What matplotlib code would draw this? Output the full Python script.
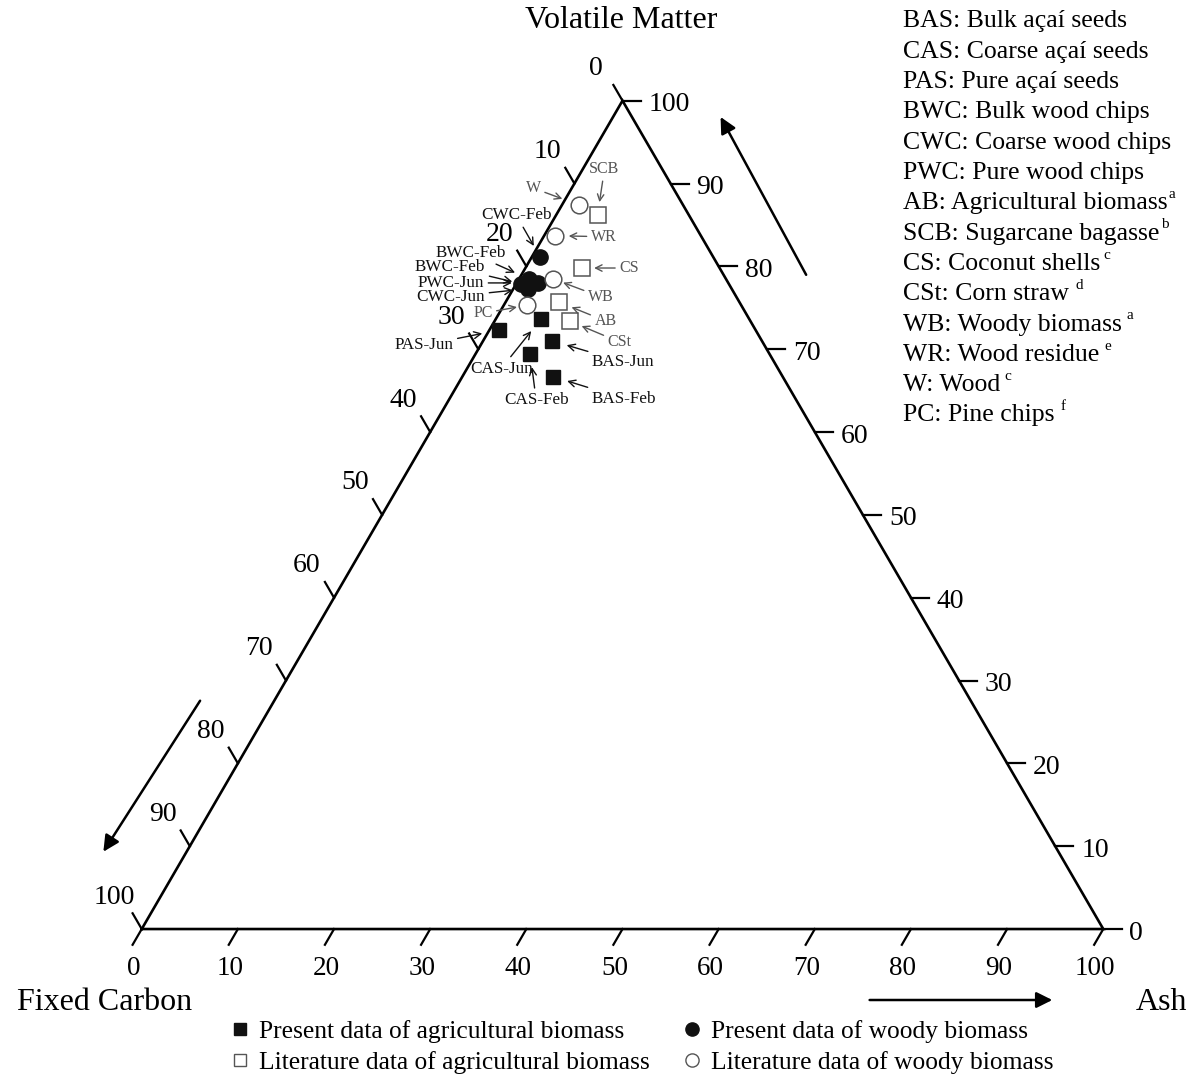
import matplotlib
matplotlib.use("Agg")
import matplotlib.pyplot as plt
from matplotlib.lines import Line2D
import numpy as np

plt.rcParams["font.family"] = ["Liberation Serif", "DejaVu Serif"]

# Proximate analysis (wt.%): volatile matter and ash, fixed carbon is the remainder
PRESENT_AGRI = ["PAS-Jun", "CAS-Jun", "BAS-Jun", "CAS-Feb", "BAS-Feb"]
PRESENT_AGRI_VM = [72.3, 73.7, 71.0, 69.4, 66.7]
PRESENT_AGRI_ASH = [1.0, 4.7, 7.2, 5.7, 9.4]

PRESENT_WOOD = ["CWC-Feb", "BWC-Feb", "BWC-Feb", "PWC-Jun", "CWC-Jun"]
PRESENT_WOOD_VM = [81.1, 78.5, 77.9, 78.0, 77.3]
PRESENT_WOOD_ASH = [0.9, 1.0, 0.5, 2.2, 1.5]

LIT_AGRI = ["SCB", "CS", "AB", "CSt"]
LIT_AGRI_VM = [86.2, 79.8, 75.7, 73.4]
LIT_AGRI_ASH = [4.3, 5.9, 5.5, 7.8]

LIT_WOOD = ["W", "WR", "WB", "PC"]
LIT_WOOD_VM = [87.4, 83.7, 78.5, 75.3]
LIT_WOOD_ASH = [1.8, 1.1, 3.5, 2.4]

# label placement: (dx, dy, gap) in pixels relative to the marker
PRESENT_AGRI_POS = [(-75, -15, 17), (-40, -50, 16), (71, -21, 15), (6, -46, 13), (71, -22, 15)]
PRESENT_WOOD_POS = [(-24, 42, 13), (-58, 26, 15), (-71, 17, 9), (-87, 0, 26), (-77, -8, 15)]
LIT_AGRI_POS = [(7, 46, 13), (47, 0, 12), (47, -19, 14), (50, -21, 13)]
LIT_WOOD_POS = [(-46, 17, 18), (49, -1, 14), (48, -18, 11), (-44, -8, 10)]

ABBREVIATIONS = [
    ("BAS: Bulk açaí seeds", ""),
    ("CAS: Coarse açaí seeds", ""),
    ("PAS: Pure açaí seeds", ""),
    ("BWC: Bulk wood chips", ""),
    ("CWC: Coarse wood chips", ""),
    ("PWC: Pure wood chips", ""),
    ("AB: Agricultural biomass", "a"),
    ("SCB: Sugarcane bagasse", "b"),
    ("CS: Coconut shells", "c"),
    ("CSt: Corn straw", "d"),
    ("WB: Woody biomass", "a"),
    ("WR: Wood residue", "e"),
    ("W: Wood", "c"),
    ("PC: Pine chips", "f"),
]
SUP_GAP = [0, 0, 0, 0, 0, 0, 1, 2, 3, 6, 5, 5, 4, 6]

TICKS = np.arange(0, 101, 10)
H = np.sqrt(3) / 2
GRAY = "#555555"
W_PX, H_PX = 1195, 1077


def to_xy(vm, ash):
    vm = np.asarray(vm, dtype=float)
    ash = np.asarray(ash, dtype=float)
    return ash + vm / 2, vm * H


fig = plt.figure(figsize=(W_PX / 100, H_PX / 100), dpi=100)
ax = fig.add_axes([0, 0, 1, 1])
ax.set_xlim(-14.74, 109.54)
ax.set_ylim(-15.47, 97.13)
ax.axis("off")

# triangle frame
tri_x, tri_y = to_xy([0, 0, 100, 0], [0, 100, 0, 0])
ax.plot(tri_x, tri_y, color="black", lw=1.9, solid_joinstyle="miter", zorder=2)

tick_len = 1.9
for t in TICKS:
    # ash ticks on the base, parallel to the left edge
    bx, by = to_xy(0, t)
    ax.plot([bx, bx - 0.5 * tick_len], [by, by - H * tick_len], color="black", lw=1.6)
    ax.annotate(f"{t}", (bx, by), xytext=(-8, -39), textcoords="offset pixels",
                ha="center", va="center", fontsize=19.5)
    # volatile matter ticks on the right edge, horizontal
    rx, ry = to_xy(t, 100 - t)
    ax.plot([rx, rx + tick_len], [ry, ry], color="black", lw=1.6)
    ax.annotate(f"{t}", (rx, ry), xytext=(26, -4), textcoords="offset pixels",
                ha="left", va="center", fontsize=20)
    # fixed carbon ticks on the left edge, parallel to the right edge
    lx, ly = to_xy(100 - t, 0)
    ax.plot([lx, lx - 0.5 * tick_len], [ly, ly + H * tick_len], color="black", lw=1.6)
    ax.annotate(f"{t}", (lx, ly), xytext=(-27, 32), textcoords="offset pixels",
                ha="center", va="center", fontsize=20)

# direction arrows along each axis
arrow_kw = dict(arrowstyle="-|>", color="black", lw=1.8, mutation_scale=24, shrinkA=0, shrinkB=0)
ax.annotate("", xy=(60.2, 84.9), xytext=(69.1, 68.4), arrowprops=arrow_kw)
ax.annotate("", xy=(-3.99, 8.08), xytext=(6.07, 23.87), arrowprops=arrow_kw)
ax.annotate("", xy=(94.7, -7.42), xytext=(75.7, -7.42), arrowprops=arrow_kw)

# data points
groups = [
    (PRESENT_AGRI, PRESENT_AGRI_VM, PRESENT_AGRI_ASH, PRESENT_AGRI_POS,
     dict(marker="s", ms=10, mfc="#111111", mec="#111111"), "#111111", 12.3),
    (PRESENT_WOOD, PRESENT_WOOD_VM, PRESENT_WOOD_ASH, PRESENT_WOOD_POS,
     dict(marker="o", ms=11, mfc="#111111", mec="#111111"), "#111111", 12.3),
    (LIT_AGRI, LIT_AGRI_VM, LIT_AGRI_ASH, LIT_AGRI_POS,
     dict(marker="s", ms=11, mfc="white", mec=GRAY, mew=1.1), GRAY, 11.5),
    (LIT_WOOD, LIT_WOOD_VM, LIT_WOOD_ASH, LIT_WOOD_POS,
     dict(marker="o", ms=12, mfc="white", mec=GRAY, mew=1.1), GRAY, 11.5),
]

for names, vm, ash, pos, style, col, fs in groups:
    x, y = to_xy(vm, ash)
    ax.plot(x, y, ls="none", zorder=4, **style)
    for name, xi, yi, (dx, dy, gap) in zip(names, x, y, pos):
        ax.annotate(name, (xi, yi), xytext=(dx, dy), textcoords="offset pixels",
                    ha="center", va="center", fontsize=fs, color=col, zorder=5,
                    arrowprops=dict(arrowstyle="->", color=col, lw=1.0,
                                    shrinkA=1, shrinkB=gap * 0.72))

# axis titles
fig.text(621 / W_PX, 1 - 20 / H_PX, "Volatile Matter", ha="center", va="center", fontsize=23)
fig.text(105 / W_PX, 1 - 1003 / H_PX, "Fixed Carbon", ha="center", va="center", fontsize=23)
fig.text(1162 / W_PX, 1 - 1003 / H_PX, "Ash", ha="center", va="center", fontsize=23)

# abbreviation list with reference superscripts
for i, ((txt, sup), gap) in enumerate(zip(ABBREVIATIONS, SUP_GAP)):
    t = fig.text(903 / W_PX, 1 - (21.5 + 30.3 * i) / H_PX, txt,
                 ha="left", va="center", fontsize=18.5)
    if sup:
        ax.annotate(sup, xy=(1, 0.9), xycoords=t, xytext=(gap, 0),
                    textcoords="offset pixels", ha="left", va="center", fontsize=11)

# marker legend
handles = [
    Line2D([], [], ls="none", marker="s", ms=9, mfc="#111111", mec="#111111"),
    Line2D([], [], ls="none", marker="s", ms=9, mfc="white", mec=GRAY, mew=1.0),
    Line2D([], [], ls="none", marker="o", ms=9.5, mfc="#111111", mec="#111111"),
    Line2D([], [], ls="none", marker="o", ms=9.5, mfc="white", mec=GRAY, mew=1.0),
]
labels = [
    "Present data of agricultural biomass",
    "Literature data of agricultural biomass",
    "Present data of woody biomass",
    "Literature data of woody biomass",
]
fig.legend(handles, labels, loc="upper left", bbox_to_anchor=(230 / W_PX, 1 - 1020 / H_PX),
           ncol=2, frameon=False, fontsize=18.4, handlelength=0.8, handletextpad=0.35,
           labelspacing=0.31, columnspacing=1.25, borderpad=0, borderaxespad=0)

fig.savefig("out.png", dpi=100)
